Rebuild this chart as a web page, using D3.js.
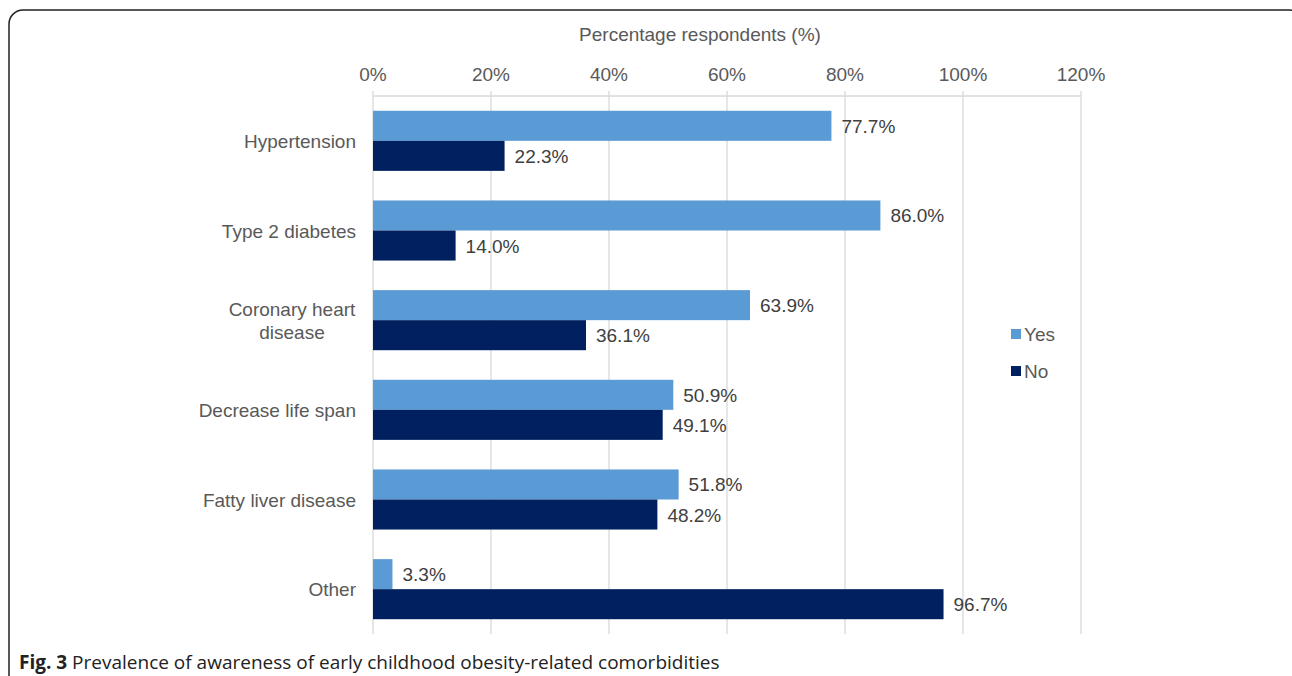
<!DOCTYPE html>
<html>
<head>
<meta charset="utf-8">
<script src="https://cdn.jsdelivr.net/npm/d3@7"></script>
<style>
  body { margin: 0; background: #fff; }
  svg { display: block; }
</style>
</head>
<body>
<svg id="chart"></svg>
<script>
// chart data
const categories = ['Hypertension', 'Type 2 diabetes', 'Coronary heart disease', 'Decrease life span', 'Fatty liver disease', 'Other'];
const yesValues = [77.7, 86.0, 63.9, 50.9, 51.8, 3.3];
const noValues = [22.3, 14.0, 36.1, 49.1, 48.2, 96.7];
const seriesNames = ['Yes', 'No'];
const tickValues = [0, 20, 40, 60, 80, 100, 120];
const axisTitle = 'Percentage respondents (%)';

const W = 1292, H = 676;
const colors = { Yes: '#5b9bd5', No: '#002060' };
const textColor = '#595959';
const font = "'Liberation Sans', Arial, sans-serif";
const fs = 19;

const svg = d3.select('#chart').attr('width', W).attr('height', H);

// outer frame with rounded corners (runs off the bottom)
svg.append('rect')
  .attr('x', 9).attr('y', 10)
  .attr('width', W - 18 + 20).attr('height', H + 20)
  .attr('rx', 14)
  .attr('fill', 'none')
  .attr('stroke', '#222')
  .attr('stroke-width', 1.5);

const margin = { top: 96, left: 373, right: 1081, bottom: 634 };

const x = d3.scaleLinear().domain([0, 120]).range([margin.left, margin.right]);
const y = d3.scaleBand().domain(categories).range([margin.top, margin.bottom]).paddingInner(0.33).paddingOuter(0.165);
const sub = d3.scaleBand().domain(seriesNames).range([0, y.bandwidth()]);

// gridlines + top axis
const g = svg.append('g');
g.selectAll('line.grid')
  .data(tickValues)
  .join('line')
  .attr('class', 'grid')
  .attr('x1', d => x(d)).attr('x2', d => x(d))
  .attr('y1', margin.top - 5).attr('y2', margin.bottom)
  .attr('stroke', '#d9d9d9')
  .attr('stroke-width', 1.3);

g.append('line')
  .attr('x1', margin.left).attr('x2', margin.right)
  .attr('y1', margin.top).attr('y2', margin.top)
  .attr('stroke', '#d9d9d9')
  .attr('stroke-width', 1.3);

g.selectAll('text.tick')
  .data(tickValues)
  .join('text')
  .attr('class', 'tick')
  .attr('x', d => x(d))
  .attr('y', 81)
  .attr('text-anchor', 'middle')
  .attr('font-family', font)
  .attr('font-size', fs)
  .attr('fill', textColor)
  .text(d => d + '%');

svg.append('text')
  .attr('x', 700)
  .attr('y', 41)
  .attr('text-anchor', 'middle')
  .attr('font-family', font)
  .attr('font-size', fs)
  .attr('fill', textColor)
  .text(axisTitle);

// bars
const rows = categories.map((c, i) => ({ cat: c, vals: [{ s: 'Yes', v: yesValues[i] }, { s: 'No', v: noValues[i] }] }));

const grp = svg.selectAll('g.cat')
  .data(rows)
  .join('g')
  .attr('class', 'cat')
  .attr('transform', d => `translate(0,${y(d.cat)})`);

grp.selectAll('rect')
  .data(d => d.vals)
  .join('rect')
  .attr('x', x(0))
  .attr('y', d => sub(d.s))
  .attr('width', d => x(d.v) - x(0))
  .attr('height', sub.bandwidth())
  .attr('fill', d => colors[d.s]);

grp.selectAll('text.val')
  .data(d => d.vals)
  .join('text')
  .attr('class', 'val')
  .attr('x', d => x(d.v) + 10)
  .attr('y', d => sub(d.s) + sub.bandwidth() / 2 + 7)
  .attr('font-family', font)
  .attr('font-size', fs)
  .attr('fill', '#404040')
  .text(d => d.v.toFixed(1) + '%');

// category labels
const catLabels = svg.selectAll('text.cat')
  .data(categories)
  .join('text')
  .attr('class', 'cat')
  .attr('font-family', font)
  .attr('font-size', fs)
  .attr('fill', textColor);

catLabels.each(function (d) {
  const t = d3.select(this);
  const cy = y(d) + y.bandwidth() / 2;
  if (d === 'Coronary heart disease') {
    t.attr('text-anchor', 'middle');
    t.append('tspan').attr('x', 292).attr('y', cy - 4).text('Coronary heart');
    t.append('tspan').attr('x', 292).attr('y', cy + 19).text('disease');
  } else {
    t.attr('text-anchor', 'end');
    t.append('tspan').attr('x', 356).attr('y', cy + 7).text(d);
  }
});

// legend
const legend = svg.append('g').attr('transform', 'translate(1011,334)');
seriesNames.forEach((s, i) => {
  legend.append('rect')
    .attr('x', 0).attr('y', i * 37 - 5)
    .attr('width', 10).attr('height', 10)
    .attr('fill', colors[s]);
  legend.append('text')
    .attr('x', 13).attr('y', i * 37 + 7)
    .attr('font-family', font)
    .attr('font-size', fs)
    .attr('fill', textColor)
    .text(s);
});

// caption
const cap = svg.append('text')
  .attr('x', 19).attr('y', 669)
  .attr('font-family', "'Open Sans', sans-serif")
  .attr('font-size', 19)
  .attr('fill', '#222');
cap.append('tspan').attr('font-weight', 'bold').text('Fig. 3');
cap.append('tspan').text(' Prevalence of awareness of early childhood obesity-related comorbidities');
</script>
</body>
</html>
